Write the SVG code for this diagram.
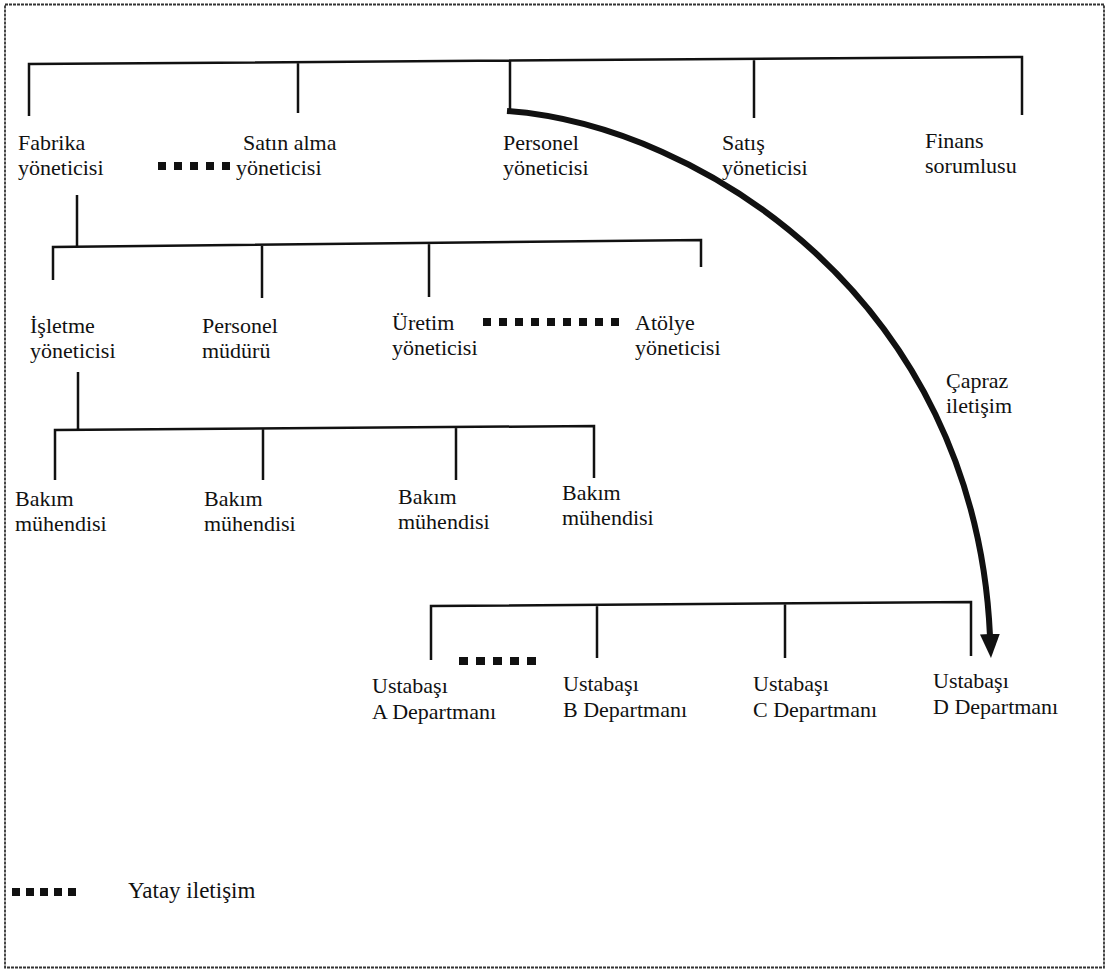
<svg xmlns="http://www.w3.org/2000/svg" width="1109" height="973" viewBox="0 0 1109 973">
<style>
text{font-family:"Liberation Serif","Times New Roman",serif;font-size:22px;fill:#111}
.ln{stroke:#111;stroke-width:2.5;fill:none}
.dot{stroke:#111;stroke-width:8;fill:none}
</style>
<defs>
<marker id="ah" viewBox="0 0 24 20" refX="2" refY="10" markerWidth="24" markerHeight="20" orient="auto" markerUnits="userSpaceOnUse">
<path d="M0,0 L24,10 L0,20 z" fill="#111"/>
</marker>
</defs>
<rect x="0" y="0" width="1109" height="973" fill="#fff"/>
<rect x="5" y="4.5" width="1099" height="963" fill="none" stroke="#333" stroke-width="1.8" stroke-dasharray="3 1"/>
<g id="connectors">
<path class="ln" d="M29,116 V64 L1022,57 V115 M298,62 V113 M510,61 V112 M754,59 V118"/>
<path class="ln" d="M77,195 V246 M53,280 V247 L701,240 V267 M262,245 V298 M429,243 V297"/>
<path class="ln" d="M78,372 V429 M55,480 V430 L594,426 V478 M263,429 V480 M456,428 V480"/>
<path class="ln" d="M431,660 V606 L971,602 V656 M597,605 V658 M785,604 V658"/>
<path d="M507,111 C700,125 975,300 990,636" stroke="#111" stroke-width="6" fill="none" marker-end="url(#ah)"/>
<line class="dot" x1="158" y1="166" x2="234" y2="166" stroke-dasharray="8 8"/>
<line class="dot" x1="483" y1="322" x2="620" y2="322" stroke-dasharray="8 8"/>
<line class="dot" x1="459" y1="661" x2="538" y2="661" stroke-dasharray="9 8"/>
<line class="dot" x1="12" y1="892" x2="78" y2="892" stroke-dasharray="8 6"/>
</g>
<g id="n-fabrika"><text x="18" y="150">Fabrika</text><text x="18" y="175">yöneticisi</text></g>
<g id="n-satinalma"><text x="243" y="150">Satın alma</text><text x="236" y="175">yöneticisi</text></g>
<g id="n-personel"><text x="503" y="150">Personel</text><text x="503" y="175">yöneticisi</text></g>
<g id="n-satis"><text x="722" y="150">Satış</text><text x="722" y="175">yöneticisi</text></g>
<g id="n-finans"><text x="925" y="148">Finans</text><text x="925" y="173">sorumlusu</text></g>
<g id="n-isletme"><text x="30" y="333">İşletme</text><text x="30" y="358">yöneticisi</text></g>
<g id="n-pmudur"><text x="202" y="333">Personel</text><text x="202" y="358">müdürü</text></g>
<g id="n-uretim"><text x="392" y="330">Üretim</text><text x="392" y="355">yöneticisi</text></g>
<g id="n-atolye"><text x="635" y="330">Atölye</text><text x="635" y="355">yöneticisi</text></g>
<g id="n-bakim1"><text x="15" y="506">Bakım</text><text x="15" y="531">mühendisi</text></g>
<g id="n-bakim2"><text x="204" y="506">Bakım</text><text x="204" y="531">mühendisi</text></g>
<g id="n-bakim3"><text x="398" y="504">Bakım</text><text x="398" y="529">mühendisi</text></g>
<g id="n-bakim4"><text x="562" y="500">Bakım</text><text x="562" y="525">mühendisi</text></g>
<g id="n-ustaA"><text x="372" y="693">Ustabaşı</text><text x="372" y="719">A Departmanı</text></g>
<g id="n-ustaB"><text x="563" y="691">Ustabaşı</text><text x="563" y="717">B Departmanı</text></g>
<g id="n-ustaC"><text x="753" y="691">Ustabaşı</text><text x="753" y="717">C Departmanı</text></g>
<g id="n-ustaD"><text x="933" y="688">Ustabaşı</text><text x="933" y="714">D Departmanı</text></g>
<g id="lbl-capraz"><text x="946" y="388">Çapraz</text><text x="946" y="413">iletişim</text></g>
<g id="legend"><text x="128" y="898" style="font-size:23px">Yatay iletişim</text></g>
</svg>
